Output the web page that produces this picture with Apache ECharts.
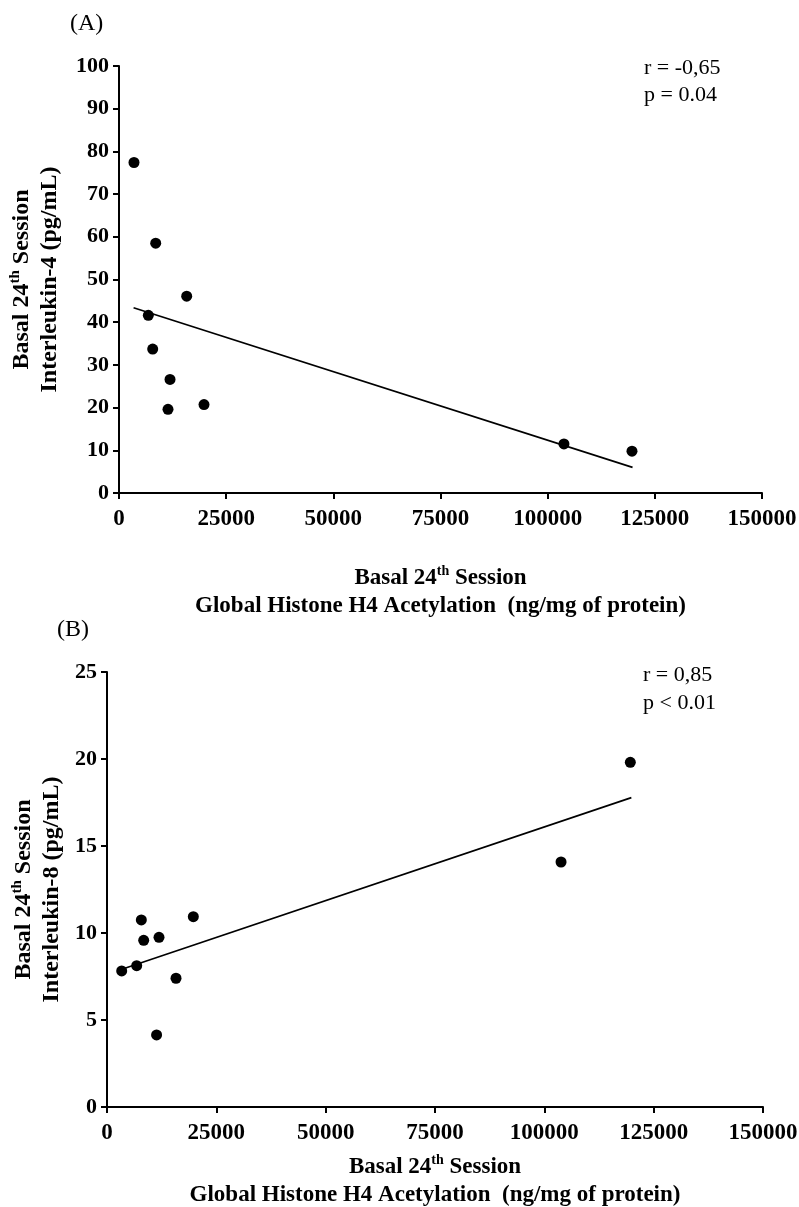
<!DOCTYPE html>
<html>
<head>
<meta charset="utf-8">
<script src="https://cdn.jsdelivr.net/npm/echarts@6/dist/echarts.min.js"></script>
<style>
html,body{margin:0;padding:0;background:#fff;}
#c{width:799px;height:1207px;}
</style>
</head>
<body>
<div id="c"></div>
<script>
// Panel A: IL-4 vs H4 acetylation
var acetylA = [3500, 8560, 15790, 6840, 7860, 11900, 11430, 19830, 103800, 119670];
var il4 = [77.4, 58.5, 46.1, 41.6, 33.7, 26.6, 19.6, 20.7, 11.5, 9.8];
var fitA_x = [3400, 119800];
var fitA_y = [43.4, 6.0];

// Panel B: IL-8 vs H4 acetylation
var acetylB = [3360, 6790, 7850, 8390, 11890, 19740, 15780, 11340, 103820, 119660];
var il8 = [7.82, 8.12, 10.75, 9.58, 9.75, 10.94, 7.40, 4.14, 14.08, 19.81];
var fitB_x = [3400, 119900];
var fitB_y = [7.92, 17.78];

var statsA = ['r = -0,65', 'p = 0.04'];
var statsB = ['r = 0,85', 'p < 0.01'];

function pairs(xs, ys){ return xs.map(function(x,i){ return [x, ys[i]]; }); }

var SERIF = '"Liberation Serif", "Times New Roman", serif';
function richName(fs){
  return {
    a: {fontFamily: SERIF, fontWeight: 'bold', fontSize: fs, color: '#000', lineHeight: 28},
    s: {fontFamily: SERIF, fontWeight: 'bold', fontSize: Math.round(fs*0.62), color: '#000', lineHeight: 18, verticalAlign: 'top'}
  };
}

function xAxisCfg(gi, gap){
  return {
    gridIndex: gi, type: 'value', min: 0, max: 150000, interval: 25000,
    axisLine: {show: true, lineStyle: {color: '#000', width: 2}},
    axisTick: {show: true, length: 6, lineStyle: {color: '#000', width: 2}},
    splitLine: {show: false},
    axisLabel: {color: '#000', fontFamily: SERIF, fontWeight: 'bold', fontSize: 23, margin: 15,
      formatter: function(v){ return String(v); }},
    name: '{a|Basal 24}{s|th}{a| Session}\n{a|Global Histone H4 Acetylation  (ng/mg of protein)}',
    nameLocation: 'middle', nameGap: gap,
    nameTextStyle: {rich: richName(23)}
  };
}
function yAxisCfg(gi, max, interval, label, gap){
  return {
    gridIndex: gi, type: 'value', min: 0, max: max, interval: interval,
    axisLine: {show: true, lineStyle: {color: '#000', width: 2}},
    axisTick: {show: true, length: 6, lineStyle: {color: '#000', width: 2}},
    splitLine: {show: false},
    axisLabel: {color: '#000', fontFamily: SERIF, fontWeight: 'bold', fontSize: 22, margin: 10},
    name: '{a|Basal 24}{s|th}{a| Session}\n{a|' + label + '}',
    nameLocation: 'middle', nameRotate: 90, nameGap: gap,
    nameTextStyle: {rich: richName(24)}
  };
}

var chart = echarts.init(document.getElementById('c'), null, {renderer: 'canvas'});
chart.setOption({
  backgroundColor: '#fff',
  animation: false,
  grid: [
    {left: 119, right: 37, top: 66, height: 427, outerBoundsMode: 'none', containLabel: false},
    {left: 107, right: 36, top: 672, height: 435, outerBoundsMode: 'none', containLabel: false}
  ],
  xAxis: [xAxisCfg(0, 71), xAxisCfg(1, 46)],
  yAxis: [
    yAxisCfg(0, 100, 10, 'Interleukin-4 (pg/mL)', 55),
    yAxisCfg(1, 25, 5, 'Interleukin-8 (pg/mL)', 40)
  ],
  series: [
    {type: 'scatter', xAxisIndex: 0, yAxisIndex: 0, data: pairs(acetylA, il4),
     symbol: 'circle', symbolSize: 11, itemStyle: {color: '#000', opacity: 1}},
    {type: 'line', xAxisIndex: 0, yAxisIndex: 0, data: pairs(fitA_x, fitA_y),
     symbol: 'none', lineStyle: {color: '#000', width: 1.6}},
    {type: 'scatter', xAxisIndex: 1, yAxisIndex: 1, data: pairs(acetylB, il8),
     symbol: 'circle', symbolSize: 11, itemStyle: {color: '#000', opacity: 1}},
    {type: 'line', xAxisIndex: 1, yAxisIndex: 1, data: pairs(fitB_x, fitB_y),
     symbol: 'none', lineStyle: {color: '#000', width: 1.6}}
  ],
  graphic: [
    {type: 'text', left: 70, top: 12, style: {text: '(A)', font: '24px ' + SERIF, fill: '#000'}},
    {type: 'text', left: 57, top: 618, style: {text: '(B)', font: '24px ' + SERIF, fill: '#000'}},
    {type: 'text', left: 644, top: 55, style: {text: statsA.join('\n'), font: '22px ' + SERIF, fill: '#000', lineHeight: 27}},
    {type: 'text', left: 643, top: 661, style: {text: statsB.join('\n'), font: '22px ' + SERIF, fill: '#000', lineHeight: 28}}
  ]
});
</script>
</body>
</html>
